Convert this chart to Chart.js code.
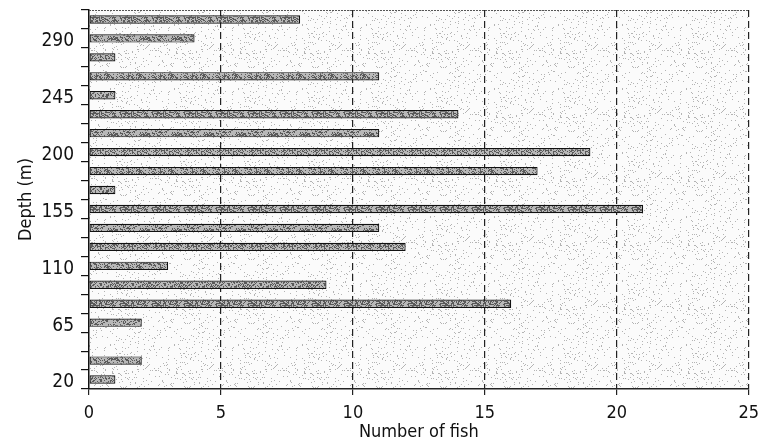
<!DOCTYPE html>
<html>
<head>
<meta charset="utf-8">
<script src="https://cdn.jsdelivr.net/npm/chart.js@4/dist/chart.umd.min.js"></script>
<style>
    html, body { margin: 0; padding: 0; background: #fff; }
    #wrap { width: 767px; height: 443px; }
</style>
</head>
<body>
<div id="wrap"><canvas id="chart" width="767" height="443"></canvas></div>
<script>
// depth bins (m), bottom to top
const depths = [20, 35, 50, 65, 80, 95, 110, 125, 140, 155, 170, 185, 200, 215, 230, 245, 260, 275, 290, 305];
const fishCounts = [1, 2, 0, 2, 16, 9, 3, 12, 11, 21, 1, 17, 19, 11, 14, 1, 11, 1, 4, 8];
const labelledDepths = [20, 65, 110, 155, 200, 245, 290];
const xMin = 0;
const xMax = 25;
const xStep = 5;

const FONT = '"DejaVu Sans Condensed", "Liberation Sans Narrow", "Liberation Sans", sans-serif';

// small stipple textures, built from a fixed hash so they look the same every time
function makeStipple(size, base, dot, density, seed) {
    const c = document.createElement('canvas');
    c.width = size;
    c.height = size;
    const g = c.getContext('2d');
    g.fillStyle = base;
    g.fillRect(0, 0, size, size);
    g.fillStyle = dot;
    for (let y = 0; y < size; y++) {
        for (let x = 0; x < size; x++) {
            const h = ((x * 73856093) ^ (y * 19349663) ^ seed) >>> 0;
            if ((h % 1000) / 1000 < density) g.fillRect(x, y, 1, 1);
        }
    }
    return g.createPattern(c, 'repeat');
}

const ctx = document.getElementById('chart').getContext('2d');
const bgPattern = makeStipple(64, '#fbfbfb', '#b4b4b4', 0.06, 12345);
const barPattern = makeStipple(32, '#b8b8b8', '#5a5a5a', 0.4, 777);

const backdrop = {
    id: 'backdrop',
    beforeDraw(chart) {
        const { ctx, chartArea: a } = chart;
        ctx.save();
        ctx.fillStyle = bgPattern;
        ctx.fillRect(a.left, a.top, a.right - a.left, a.bottom - a.top);
        ctx.restore();
    },
    afterDraw(chart) {
        const { ctx, chartArea: a } = chart;
        ctx.save();
        ctx.strokeStyle = '#555';
        ctx.lineWidth = 1;
        ctx.setLineDash([2, 1]);
        ctx.beginPath();
        ctx.moveTo(a.left, a.top + 0.5);
        ctx.lineTo(a.right, a.top + 0.5);
        ctx.stroke();
        ctx.restore();
    }
};

new Chart(ctx, {
    type: 'bar',
    data: {
        labels: depths.map(String),
        datasets: [{
            data: fishCounts,
            backgroundColor: barPattern,
            borderColor: '#111',
            borderWidth: 1.2,
            borderSkipped: false,
            barPercentage: 0.44,
            categoryPercentage: 1
        }]
    },
    options: {
        indexAxis: 'y',
        responsive: false,
        animation: false,
        layout: { padding: { top: 10, right: 18, left: 0, bottom: 0 } },
        plugins: {
            legend: { display: false },
            tooltip: { enabled: false }
        },
        scales: {
            x: {
                min: xMin,
                max: xMax,
                afterFit: scale => { scale.height = 54; },
                border: { display: true, color: '#222', width: 1.5, dash: [7, 4] },
                grid: {
                    color: c => c.tick && c.tick.value === 0 ? 'rgba(0,0,0,0)' : '#222',
                    lineWidth: 1.2,
                    tickColor: '#222',
                    tickBorderDash: [],
                    tickLength: 6
                },
                ticks: {
                    stepSize: xStep,
                    color: '#111',
                    padding: 8,
                    font: { family: FONT, size: 18 }
                },
                title: {
                    display: true,
                    text: 'Number of fish',
                    color: '#111',
                    padding: { top: 0, bottom: 0 },
                    font: { family: FONT, size: 18 }
                }
            },
            y: {
                reverse: true,
                afterFit: scale => {
                    scale.width = 89;
                    scale.paddingTop = 0;
                    scale.paddingBottom = 0;
                },
                border: { display: true, color: '#111', width: 1.5 },
                grid: {
                    drawOnChartArea: false,
                    offset: true,
                    tickColor: '#111',
                    tickLength: 8,
                    lineWidth: 1.2
                },
                ticks: {
                    autoSkip: false,
                    color: '#111',
                    padding: 7,
                    labelOffset: 3,
                    font: { family: FONT, size: 19 },
                    callback: function (value, index) {
                        const d = depths[index];
                        return labelledDepths.includes(d) ? String(d) : '';
                    }
                },
                title: {
                    display: true,
                    text: 'Depth (m)',
                    color: '#111',
                    padding: { top: 16, bottom: 0 },
                    font: { family: FONT, size: 18 }
                }
            }
        }
    },
    plugins: [backdrop]
});
</script>
</body>
</html>
